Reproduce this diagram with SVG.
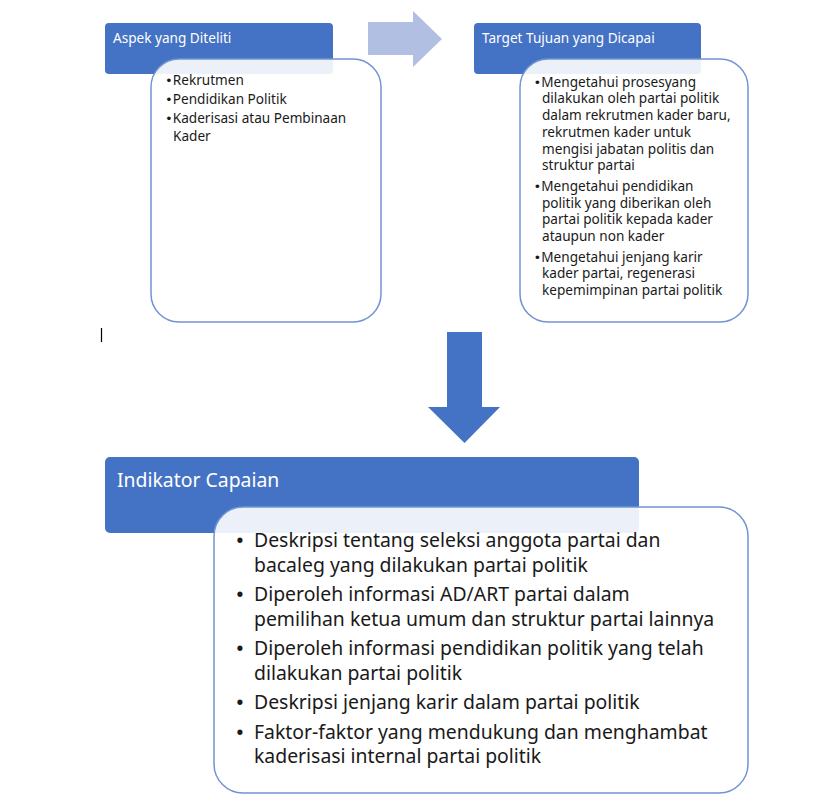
<svg xmlns="http://www.w3.org/2000/svg" width="832" height="810" viewBox="0 0 832 810">
<style>
.hdr{fill:#4472C4}
.box{fill:#FFFFFF;fill-opacity:0.9;stroke:#7294D3;stroke-width:1.5}
.ht{font-family:"Noto Sans","Open Sans",sans-serif;fill:#FFFFFF}
.bt{font-family:"Noto Sans","Open Sans",sans-serif;fill:#1A1A1A}
.b{font-family:"Liberation Sans",Arial,sans-serif}
.s{font-size:13.6px}
.l{font-size:19.4px}
</style>
<rect width="832" height="810" fill="#FFFFFF"/>
<g id="node-aspek">
<rect class="hdr" x="105" y="23" width="228" height="51" rx="4"/>
<text class="ht s" x="113" y="43">Aspek yang Diteliti</text>
<rect class="box" x="151" y="59" width="230" height="263" rx="28"/>
<text class="bt s"><tspan x="166.5" y="85" class="b">•</tspan><tspan dx="1.5">Rekrutmen</tspan><tspan x="166.5" y="104" class="b">•</tspan><tspan dx="1.5">Pendidikan Politik</tspan><tspan x="166.5" y="123" class="b">•</tspan><tspan dx="1.5">Kaderisasi atau Pembinaan</tspan><tspan x="173" y="141">Kader</tspan></text>
</g>
<g id="node-target">
<rect class="hdr" x="474" y="23" width="227" height="51" rx="4"/>
<text class="ht s" x="482" y="43">Target Tujuan yang Dicapai</text>
<rect class="box" x="520" y="59" width="228" height="263" rx="28"/>
<text class="bt s"><tspan x="535" y="86.7" class="b">•</tspan><tspan dx="1.5">Mengetahui prosesyang</tspan><tspan x="542" y="103.4">dilakukan oleh partai politik</tspan><tspan x="542" y="120.1">dalam rekrutmen kader baru,</tspan><tspan x="542" y="136.8">rekrutmen kader untuk</tspan><tspan x="542" y="153.5">mengisi jabatan politis dan</tspan><tspan x="542" y="170.2">struktur partai</tspan><tspan x="535" y="190.7" class="b">•</tspan><tspan dx="1.5">Mengetahui pendidikan</tspan><tspan x="542" y="207.5">politik yang diberikan oleh</tspan><tspan x="542" y="224.2">partai politik kepada kader</tspan><tspan x="542" y="241">ataupun non kader</tspan><tspan x="535" y="261.5" class="b">•</tspan><tspan dx="1.5">Mengetahui jenjang karir</tspan><tspan x="542" y="278.2">kader partai, regenerasi</tspan><tspan x="542" y="295">kepemimpinan partai politik</tspan></text>
</g>
<g id="node-indikator">
<rect class="hdr" x="105" y="457" width="534" height="76" rx="5"/>
<text class="ht l" x="117" y="487">Indikator Capaian</text>
<rect class="box" x="214" y="507" width="534" height="286" rx="29"/>
<g class="bt l">
<text class="b" x="236.5" y="547">•</text><text x="254" y="547">Deskripsi tentang seleksi anggota partai dan</text>
<text x="254" y="571.5">bacaleg yang dilakukan partai politik</text>
<text class="b" x="236.5" y="601">•</text><text x="254" y="601">Diperoleh informasi AD/ART partai dalam</text>
<text x="254" y="625.5">pemilihan ketua umum dan struktur partai lainnya</text>
<text class="b" x="236.5" y="655">•</text><text x="254" y="655">Diperoleh informasi pendidikan politik yang telah</text>
<text x="254" y="679.5">dilakukan partai politik</text>
<text class="b" x="236.5" y="709">•</text><text x="254" y="709">Deskripsi jenjang karir dalam partai politik</text>
<text class="b" x="236.5" y="738.5">•</text><text x="254" y="738.5">Faktor-faktor yang mendukung dan menghambat</text>
<text x="254" y="763">kaderisasi internal partai politik</text>
</g>
</g>
<g id="connectors">
<polygon points="368,22 413,22 413,11 442,39 413,67 413,55 368,55" fill="#B0BFE2"/>
<polygon points="447,332 482,332 482,407 500,407 464.5,443 428,407 447,407" fill="#4472C4"/>
</g>
<line x1="101.5" y1="328" x2="101.5" y2="342" stroke="#000000" stroke-width="1.2"/>
</svg>
